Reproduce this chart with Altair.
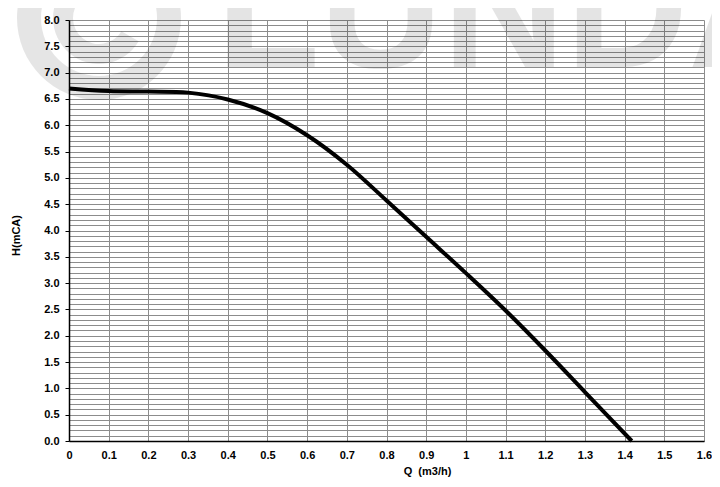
import altair as alt
import pandas as pd

# Pump curve
q_values = [0.0, 0.1, 0.2, 0.3, 0.4, 0.5, 0.6, 0.7, 0.8, 0.9, 1.0, 1.1, 1.2, 1.3, 1.418]
h_values = [6.70, 6.65, 6.64, 6.62, 6.49, 6.23, 5.81, 5.25, 4.57, 3.88, 3.19, 2.48, 1.72, 0.93, 0.0]

x_ticks = [round(i * 0.1, 1) for i in range(17)]
y_ticks = [round(i * 0.1, 1) for i in range(81)]

watermark_text = ["LUNDA"]

FONT = "Liberation Sans"

curve_df = pd.DataFrame({"Q": q_values, "H": h_values})

major_test = "abs(datum.value * 2 - round(datum.value * 2)) < 0.001"

x_axis = alt.Axis(
    values=x_ticks,
    format="~g",
    grid=True,
    gridColor="#8c8c8c",
    gridWidth=1,
    gridOpacity=1,
    domainColor="black",
    domainWidth=1.5,
    ticks=False,
    labelPadding=8,
    labelFlush=False,
    labelOverlap=False,
    labelFont=FONT,
    labelFontWeight="bold",
    labelFontSize=11,
    labelColor="black",
    title="Q\u00a0\u00a0(m3/h)",
    titleFont=FONT,
    titleFontWeight="bold",
    titleFontSize=11,
    titleColor="black",
    titleX=358,
    titleY=30,
    titleBaseline="middle",
    titleAlign="center",
)

y_axis = alt.Axis(
    values=y_ticks,
    labelExpr=f"{major_test} ? format(datum.value, '.1f') : ''",
    grid=True,
    gridColor="#8c8c8c",
    gridWidth=1,
    gridOpacity=1,
    domainColor="black",
    domainWidth=1.5,
    ticks=True,
    tickSize=4,
    tickColor="black",
    tickOpacity={"condition": {"test": major_test, "value": 1}, "value": 0},
    labelPadding=6,
    labelOverlap=False,
    labelFont=FONT,
    labelFontWeight="bold",
    labelFontSize=11,
    labelColor="black",
    title="H(mCA)",
    titleFont=FONT,
    titleFontWeight="bold",
    titleFontSize=11,
    titleColor="black",
    titleAngle=-90,
    titleX=-53,
    titleY=215,
    titleBaseline="middle",
    titleAlign="center",
)

x_enc = alt.X("Q:Q", scale=alt.Scale(domain=[0, 1.6], nice=False, zero=False), axis=x_axis)
y_enc = alt.Y("H:Q", scale=alt.Scale(domain=[0, 8], nice=False, zero=False), axis=y_axis)

one = pd.DataFrame({"w": watermark_text})

ring = alt.Chart(one).mark_arc(
    innerRadius=58, outerRadius=82, theta=0, theta2=6.2832,
    color="black", opacity=0.1,
).encode(x=alt.value(30), y=alt.value(-2))

inner_c = alt.Chart(one).mark_arc(
    innerRadius=26, outerRadius=46, theta=2.1, theta2=7.3,
    color="black", opacity=0.1,
).encode(x=alt.value(30), y=alt.value(-2))

wm = alt.Chart(one).mark_text(
    font=FONT, fontWeight="bold", fontSize=170, align="left",
    baseline="alphabetic", color="black", opacity=0.1,
).encode(text="w:N", x=alt.value(147), y=alt.value(47))

curve = alt.Chart(curve_df).mark_line(
    color="black", strokeWidth=4, interpolate="catmull-rom"
).encode(x=x_enc, y=y_enc)

chart = alt.layer(ring, inner_c, wm, curve).properties(
    width=635,
    height=421,
    autosize=alt.AutoSizeParams(type="none"),
    padding={"left": 61, "top": 12, "right": 8, "bottom": 38},
    background="white",
).configure_view(strokeWidth=0)

chart.save("out.html", embed_options={"renderer": "svg", "actions": False})
